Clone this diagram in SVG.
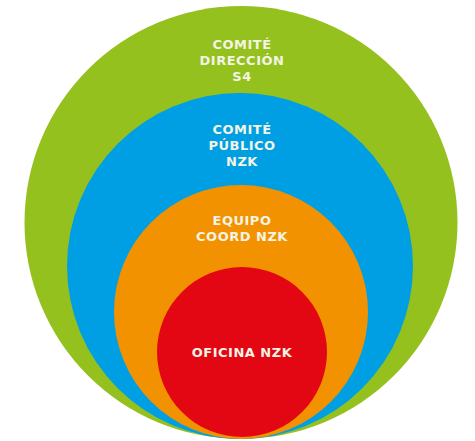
<svg xmlns="http://www.w3.org/2000/svg" width="475" height="441" viewBox="0 0 475 441">
<style>
.lbl{font-family:"DejaVu Sans","Liberation Sans",sans-serif;font-weight:bold;font-size:13px;letter-spacing:0.5px;fill:#f4f4e4;text-anchor:middle}
</style>
<rect width="475" height="441" fill="#ffffff"/>
<g id="comite-direccion">
<circle cx="241" cy="222.5" r="216.5" fill="#95c11f"/>
<text class="lbl" x="242" y="48.5">COMITÉ</text>
<text class="lbl" x="242" y="64.5">DIRECCIÓN</text>
<text class="lbl" x="242" y="81">S4</text>
</g>
<g id="comite-publico">
<circle cx="240" cy="266" r="173" fill="#009fe3"/>
<text class="lbl" x="242" y="134">COMITÉ</text>
<text class="lbl" x="242" y="150">PÚBLICO</text>
<text class="lbl" x="242" y="166">NZK</text>
</g>
<g id="equipo-coord">
<circle cx="241" cy="312" r="127" fill="#f39200"/>
<text class="lbl" x="242" y="225">EQUIPO</text>
<text class="lbl" x="242" y="241">COORD NZK</text>
</g>
<g id="oficina">
<circle cx="242" cy="352" r="85" fill="#e30613"/>
<text class="lbl" x="242" y="357">OFICINA NZK</text>
</g>
<g id="connectors"/>
</svg>
